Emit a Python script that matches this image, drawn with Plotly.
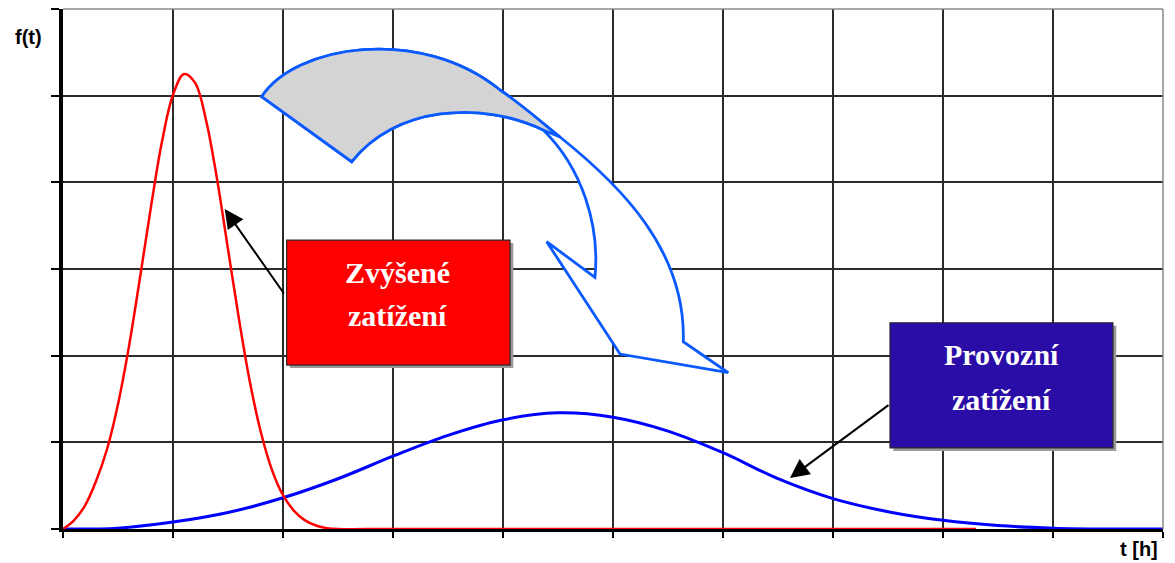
import plotly.graph_objects as go

# Failure-time densities f(t) for the two load regimes
t_red = [0.0, 0.1, 0.2, 0.3, 0.4, 0.5, 0.6, 0.7, 0.8, 0.9, 1.0, 1.1, 1.2,
         1.3, 1.4, 1.5, 1.6, 1.7, 1.8, 1.9, 2.0, 2.1, 2.2, 2.3, 2.4, 2.5,
         3.0, 8.3]
f_red = [0.0, 0.10, 0.27, 0.55, 0.92, 1.44, 2.11, 2.90, 3.72, 4.47, 5.01,
         5.25, 5.15, 4.72, 4.04, 3.23, 2.42, 1.69, 1.11, 0.68, 0.39, 0.21,
         0.10, 0.04, 0.01, 0.0, 0.0, 0.0]

t_blue = [0.0, 0.5, 1.0, 1.5, 2.0, 2.5, 3.0, 3.5, 4.0, 4.5, 5.0, 5.5, 6.0,
          6.5, 7.0, 7.5, 8.0, 8.5, 9.0, 9.5, 10.0]
f_blue = [0.0, 0.01, 0.08, 0.19, 0.36, 0.58, 0.84, 1.08, 1.26, 1.34, 1.29,
          1.13, 0.88, 0.58, 0.35, 0.20, 0.10, 0.04, 0.01, 0.0, 0.0]

x_label = "t [h]"
y_label = "f(t)"
red_label = ["Zvýšené", "zatížení"]
blue_label = ["Provozní", "zatížení"]

fig = go.Figure()
fig.add_trace(go.Scatter(x=t_blue, y=f_blue, mode="lines",
                         line=dict(color="#0000FF", width=3, shape="spline"),
                         hoverinfo="skip"))
fig.add_trace(go.Scatter(x=t_red, y=f_red, mode="lines",
                         line=dict(color="#FF0000", width=2.5, shape="spline"),
                         hoverinfo="skip"))

shapes = []
# plot frame: light top/right border
shapes.append(dict(type="line", xref="paper", yref="paper", x0=0, x1=1, y0=1, y1=1,
                   line=dict(color="#8a8a8a", width=1.5), layer="above"))
shapes.append(dict(type="line", xref="paper", yref="paper", x0=1, x1=1, y0=0, y1=1,
                   line=dict(color="#8a8a8a", width=1.5), layer="above"))

# curved block arrow (white body + grey folded top)
arrow_blue = "#0A5AFF"
white_path = ("M1.806,4.988 C2.109,5.584 3.245,5.815 3.973,5.065 "
              "C4.155,4.911 4.336,4.708 4.518,4.523 "
              "C5.064,3.969 5.664,3.219 5.639,2.161 "
              "L6.048,1.803 L5.064,2.019 L4.397,3.315 L4.836,2.904 "
              "C4.882,3.508 4.718,4.165 4.366,4.604 "
              "C3.791,4.950 3.018,4.874 2.625,4.238 Z")
grey_path = ("M1.806,4.988 C2.109,5.584 3.245,5.815 3.973,5.065 "
             "C4.155,4.911 4.336,4.708 4.518,4.523 "
             "L4.366,4.604 C3.791,4.950 3.018,4.874 2.625,4.238 Z")
shapes.append(dict(type="path", xref="x", yref="y", path=white_path,
                   fillcolor="white", line=dict(color=arrow_blue, width=2.8),
                   layer="above"))
shapes.append(dict(type="path", xref="x", yref="y", path=grey_path,
                   fillcolor="#D4D4D4", line=dict(color=arrow_blue, width=2.8),
                   layer="above"))

# label boxes with a soft drop shadow
def label_box(x0, x1, y0, y1, color):
    dx, dy = 0.03, 0.035
    shapes.append(dict(type="rect", xref="x", yref="y", x0=x0 + dx, x1=x1 + dx,
                       y0=y0 - dy, y1=y1 - dy, fillcolor="#9a9a9a",
                       line=dict(width=0), layer="above"))
    shapes.append(dict(type="rect", xref="x", yref="y", x0=x0, x1=x1, y0=y0, y1=y1,
                       fillcolor=color, line=dict(color="#2a2a2a", width=1.2),
                       layer="above"))

label_box(2.033, 4.064, 1.892, 3.334, "#FF0000")
label_box(7.518, 9.545, 0.935, 2.380, "#2A0CA6")

annotations = []
box_font = dict(family="Liberation Serif", size=30, color="white")
for text, y in zip(red_label, [2.954, 2.458]):
    annotations.append(dict(x=3.045, y=y, xref="x", yref="y", text=f"<b>{text}</b>",
                            showarrow=False, font=box_font))
for text, y in zip(blue_label, [2.008, 1.500]):
    annotations.append(dict(x=8.532, y=y, xref="x", yref="y", text=f"<b>{text}</b>",
                            showarrow=False, font=box_font))

# pointer arrows from the boxes to the curves
annotations.append(dict(x=1.470, y=3.692, ax=2.018, ay=2.700, xref="x", yref="y",
                        axref="x", ayref="y", text="", showarrow=True, arrowhead=2,
                        arrowsize=1.9, arrowwidth=2, arrowcolor="black", standoff=0))
annotations.append(dict(x=6.609, y=0.588, ax=7.518, ay=1.442, xref="x", yref="y",
                        axref="x", ayref="y", text="", showarrow=True, arrowhead=2,
                        arrowsize=1.9, arrowwidth=2, arrowcolor="black", standoff=0))

# axis titles
annotations.append(dict(x=28, y=37, xref="paper", yref="paper", text=f"<b>{y_label}</b>",
                        showarrow=False, font=dict(family="Liberation Sans", size=20,
                                                   color="black")))
annotations.append(dict(x=1139, y=549, xref="paper", yref="paper", text=f"<b>{x_label}</b>",
                        showarrow=False, font=dict(family="Liberation Sans", size=20,
                                                   color="black")))

# convert the two title positions from pixels to paper fractions
W, H = 1175, 563
L, R, T, B = 63, 12, 9, 34
pw, ph = W - L - R, H - T - B
for a in annotations[-2:]:
    a["x"] = (a["x"] - L) / pw
    a["y"] = (H - B - a["y"]) / ph
    a["xanchor"] = "center"
    a["yanchor"] = "middle"

fig.update_layout(
    width=W, height=H,
    margin=dict(l=L, r=R, t=T, b=B),
    paper_bgcolor="white", plot_bgcolor="white",
    showlegend=False,
    shapes=shapes,
    annotations=annotations,
    xaxis=dict(range=[0, 10], dtick=1, tick0=0, showgrid=True,
               gridcolor="#2b2b2b", gridwidth=1.5, zeroline=False,
               showline=True, linecolor="black", linewidth=2.5,
               ticks="outside", ticklen=6, tickwidth=2, tickcolor="black",
               showticklabels=False, fixedrange=True),
    yaxis=dict(range=[0, 6], dtick=1, tick0=0, showgrid=True,
               gridcolor="#2b2b2b", gridwidth=1.5, zeroline=False,
               showline=True, linecolor="black", linewidth=4,
               ticks="outside", ticklen=8, tickwidth=2, tickcolor="black",
               showticklabels=False, fixedrange=True),
)

fig.write_html("out.html")
